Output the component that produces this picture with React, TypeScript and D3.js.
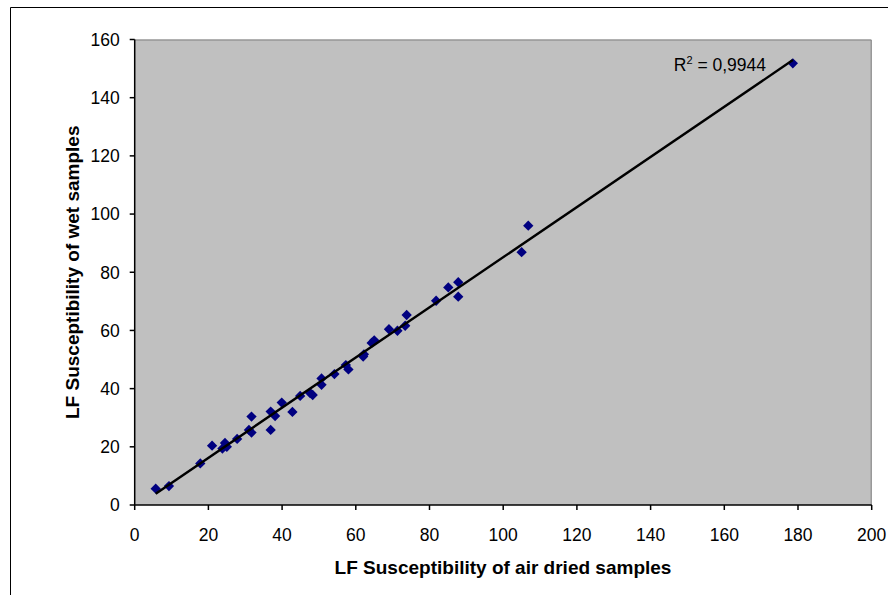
import React from "react";
import * as d3 from "d3";

// LF susceptibility: air dried (x) vs wet (y)
const airDried = [
  5.7, 9.3, 17.8, 21.0, 23.8, 24.5, 25.0, 27.8, 31.7, 31.0, 31.7, 36.9, 38.1,
  36.9, 39.9, 42.8, 44.9, 47.6, 48.3, 50.7, 50.7, 54.2, 57.3, 58.0, 62.0, 62.2,
  64.3, 65.0, 69.0, 71.3, 73.4, 73.8, 81.8, 85.1, 87.8, 87.8, 105.0, 106.8, 178.6,
];
const wet = [
  5.6, 6.5, 14.3, 20.4, 19.4, 21.3, 20.0, 22.7, 30.4, 25.8, 24.9, 32.1, 30.6,
  25.8, 35.2, 32.0, 37.5, 38.5, 37.8, 43.5, 41.3, 45.0, 48.1, 46.6, 51.0, 51.8,
  55.7, 56.6, 60.4, 59.9, 61.6, 65.3, 70.2, 74.8, 76.6, 71.6, 86.9, 96.0, 151.8,
];
const xTicks = [0, 20, 40, 60, 80, 100, 120, 140, 160, 180, 200];
const yTicks = [0, 20, 40, 60, 80, 100, 120, 140, 160];
const r2Label = "0,9944";

const W = 888;
const H = 595;
const plot = { left: 134.7, right: 871.7, top: 39.5, bottom: 505 };
const font = "'Liberation Sans', Arial, sans-serif";
const tickSize = 17.5;

const App = () => {
  const x = d3.scaleLinear().domain([0, 200]).range([plot.left, plot.right]);
  const y = d3.scaleLinear().domain([0, 160]).range([plot.bottom, plot.top]);

  // least squares trendline
  const pts = airDried.map((v, i) => [v, wet[i]]);
  const mx = d3.mean(airDried) as number;
  const my = d3.mean(wet) as number;
  const sxy = d3.sum(pts, (p) => (p[0] - mx) * (p[1] - my));
  const sxx = d3.sum(pts, (p) => (p[0] - mx) ** 2);
  const slope = sxy / sxx;
  const icpt = my - slope * mx;
  const [x0, x1] = d3.extent(airDried) as [number, number];
  const trend = d3.line<number>()
    .x((d) => x(d))
    .y((d) => y(icpt + slope * d));

  const diamond = d3.symbol().type(d3.symbolDiamond2).size(68);
  const pw = plot.right - plot.left;
  const ph = plot.bottom - plot.top;

  return (
    <svg
      width={W}
      height={H}
      style={{ position: "fixed", left: 0, top: 0, background: "#fff" }}
      fontFamily={font}
    >
      {/* chart frame */}
      <path d={`M10.5,${H + 2} V7.5 H${W + 2}`} fill="none" stroke="#000" strokeWidth={1} />

      <rect x={plot.left} y={plot.top} width={pw} height={ph} fill="#c0c0c0" />
      <path
        d={`M${plot.left},${plot.top + 0.5} H${plot.right - 0.5} V${plot.bottom}`}
        fill="none"
        stroke="#808080"
        strokeWidth={1}
      />

      {/* axes */}
      <line x1={plot.left} x2={plot.left} y1={plot.top} y2={plot.bottom} stroke="#000" strokeWidth={1.5} />
      <line x1={plot.left} x2={plot.right} y1={plot.bottom} y2={plot.bottom} stroke="#000" strokeWidth={1.5} />

      {yTicks.map((t) => (
        <g key={"y" + t}>
          <line x1={plot.left - 5} x2={plot.left} y1={y(t)} y2={y(t)} stroke="#000" strokeWidth={1.5} />
          <text x={plot.left - 15} y={y(t)} dy="0.36em" textAnchor="end" fontSize={tickSize} fill="#000">
            {t}
          </text>
        </g>
      ))}
      {xTicks.map((t) => (
        <g key={"x" + t}>
          <line x1={x(t)} x2={x(t)} y1={plot.bottom} y2={plot.bottom + 5} stroke="#000" strokeWidth={1.5} />
          <text x={x(t)} y={541} textAnchor="middle" fontSize={tickSize} fill="#000">
            {t}
          </text>
        </g>
      ))}

      {/* points */}
      {pts.map((p, i) => (
        <path
          key={i}
          d={diamond() as string}
          transform={`translate(${x(p[0])},${y(p[1])})`}
          fill="#000080"
        />
      ))}

      <path d={trend([x0, x1]) as string} stroke="#000" strokeWidth={2.4} fill="none" />

      <text x={766} y={71} textAnchor="end" fontSize={tickSize} fill="#000">
        R<tspan dy={-7} fontSize={11}>2</tspan>
        <tspan dy={7}>{" = " + r2Label}</tspan>
      </text>

      <text x={503} y={574} textAnchor="middle" fontSize={19} fontWeight="bold" fill="#000">
        LF Susceptibility of air dried samples
      </text>
      <text
        transform={`translate(79,${(plot.top + plot.bottom) / 2}) rotate(-90)`}
        textAnchor="middle"
        fontSize={19}
        fontWeight="bold"
        fill="#000"
      >
        LF Susceptibility of wet samples
      </text>
    </svg>
  );
};

export default App;
